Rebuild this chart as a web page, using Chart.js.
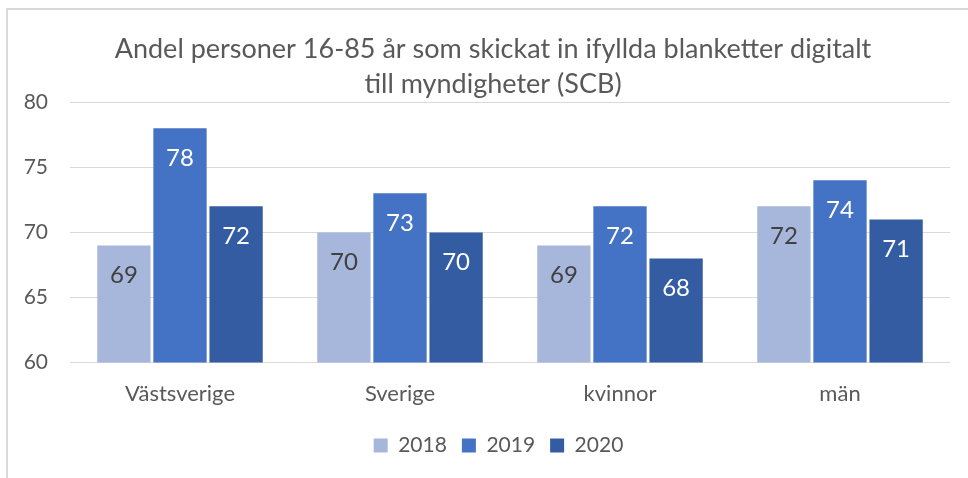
<!DOCTYPE html>
<html>
<head>
<meta charset="utf-8">
<script src="https://cdn.jsdelivr.net/npm/chart.js@4.4.1/dist/chart.umd.min.js"></script>
<style>
  html, body { margin: 0; padding: 0; background: #fff; }
  #wrap { position: relative; width: 968px; height: 478px; overflow: hidden; }
  #frame { position: absolute; left: 6px; top: 8px; width: 1000px; height: 600px; border-top: 2px solid #d9d9d9; border-left: 2px solid #d9d9d9; box-sizing: border-box; }
  canvas { position: absolute; left: 0; top: 0; }
</style>
</head>
<body>
<div id="wrap">
  <div id="frame"></div>
  <canvas id="c" width="968" height="478"></canvas>
</div>
<script>
const categories = ['Västsverige', 'Sverige', 'kvinnor', 'män'];
const seriesNames = ['2018', '2019', '2020'];
const values2018 = [69, 70, 69, 72];
const values2019 = [78, 73, 72, 74];
const values2020 = [72, 70, 68, 71];
const titleLines = ['Andel personer 16-85 år som skickat in ifyllda blanketter digitalt', 'till myndigheter (SCB)'];

const colors = ['#A7B6DB', '#4472C4', '#345CA3'];
const labelColors = ['#404040', '#ffffff', '#ffffff'];
const FONT = 'Lato, "Open Sans", sans-serif';

const labelPlugin = {
  id: 'barLabels',
  afterLayout(chart) {
    // centre title and legend like the reference (shifted right of the canvas centre)
    if (chart.titleBlock) chart.titleBlock.left += 36;
    if (chart.legend) chart.legend.left += 47;
  },
  afterDatasetsDraw(chart) {
    const ctx = chart.ctx;
    ctx.save();
    ctx.font = '24px ' + FONT;
    ctx.textAlign = 'center';
    ctx.textBaseline = 'middle';
    chart.data.datasets.forEach((ds, i) => {
      const meta = chart.getDatasetMeta(i);
      meta.data.forEach((el, j) => {
        ctx.fillStyle = labelColors[i];
        ctx.fillText(String(ds.data[j]), el.x, el.y + 30);
      });
    });
    ctx.restore();
  }
};

new Chart(document.getElementById('c'), {
  type: 'bar',
  data: {
    labels: categories,
    datasets: [values2018, values2019, values2020].map((v, i) => ({
      label: seriesNames[i],
      data: v,
      backgroundColor: colors[i],
      borderWidth: 0,
      barPercentage: 0.95,
      categoryPercentage: 0.765
    }))
  },
  options: {
    responsive: false,
    animation: false,
    layout: { padding: { top: 32, right: 18, left: 0, bottom: 12 } },
    plugins: {
      tooltip: { enabled: false },
      title: {
        display: true,
        text: titleLines,
        color: '#595959',
        font: { family: FONT, size: 27, weight: 'normal', lineHeight: 1.3 },
        padding: { top: 0, bottom: 0 }
      },
      legend: {
        position: 'bottom',
        labels: {
          color: '#595959',
          font: { family: FONT, size: 21 },
          boxWidth: 14,
          boxHeight: 14,
          padding: 15
        }
      }
    },
    scales: {
      x: {
        grid: { display: false, drawTicks: false },
        border: { display: false },
        ticks: { color: '#595959', font: { family: FONT, size: 22 }, padding: 18 },
        afterFit(scale) { scale.height -= 5; }
      },
      y: {
        min: 60, max: 80,
        ticks: { stepSize: 5, color: '#595959', font: { family: FONT, size: 21 }, padding: 22 },
        grid: { color: '#d9d9d9', lineWidth: 1, drawTicks: false },
        border: { display: false },
        afterFit(scale) { scale.width = 70; }
      }
    }
  },
  plugins: [labelPlugin]
});
</script>
</body>
</html>
